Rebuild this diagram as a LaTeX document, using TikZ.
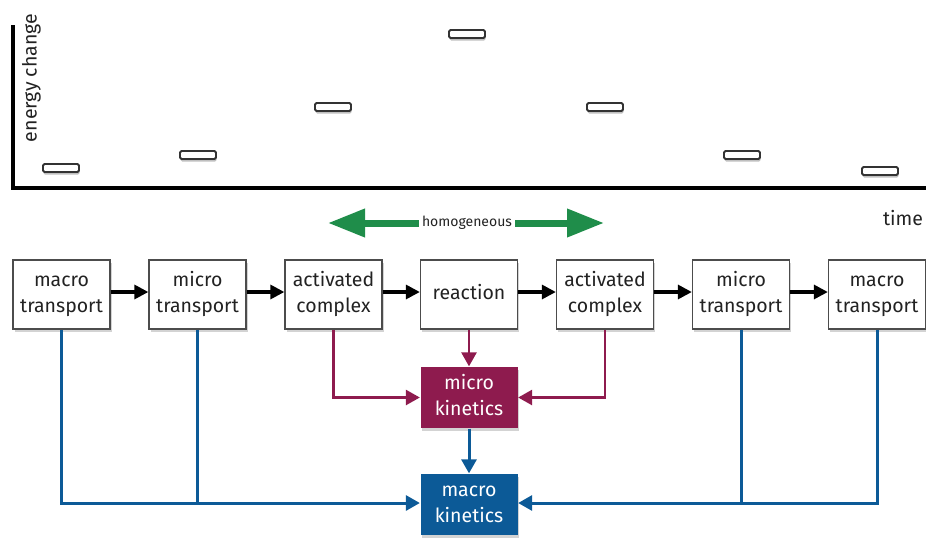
\documentclass[tikz,border=0pt]{standalone}
\usepackage{fontspec}
\setmainfont{Fira Sans}
\usetikzlibrary{arrows.meta,shadows,positioning}
\definecolor{mkpurple}{HTML}{8E1B4E}
\definecolor{mkblue}{HTML}{0C5A97}
\definecolor{hgreen}{HTML}{1F8D4A}
\definecolor{txt}{HTML}{222222}
\newcommand{\twolines}[2]{\strut#1\\\strut#2}
\tikzset{
  stepbox/.style={draw=black!70, line width=1.3pt, fill=white, minimum width=97pt, minimum height=69pt,
    align=center, font=\fontsize{19.5}{26}\selectfont, text=txt, inner sep=0pt,
    drop shadow={shadow xshift=1.5pt, shadow yshift=-2.5pt, opacity=0.35}},
  kinbox/.style={stepbox, draw=none, text=white},
  level/.style={draw=black!80, line width=1.8pt, fill=white, rounded corners=1.5pt,
    minimum width=36pt, minimum height=8pt, inner sep=0pt,
    drop shadow={shadow xshift=0.5pt, shadow yshift=-2.5pt, opacity=0.5}},
  flow/.style={line width=3.2pt, -{Triangle[length=14pt,width=14pt]}},
  purp/.style={draw=mkpurple, line width=2.6pt, -{Triangle[length=14pt,width=15pt]}, mkpurple},
  blu/.style={draw=mkblue, line width=3pt, mkblue},
  bluarr/.style={blu, -{Triangle[length=14pt,width=15pt]}},
  garrow/.style={draw=hgreen, line width=7pt, -{Triangle[length=37pt,width=27pt]}}
}
\begin{document}
\begin{tikzpicture}[x=1pt,y=-1pt]
\useasboundingbox (0,0) rectangle (926,538);
% axes
\coordinate (ytop) at (13,25);
\coordinate (orig) at (13,188);
\coordinate (xend) at (926,188);
\draw[line width=3.2pt] (ytop) -- (orig) -- (xend);
\node[rotate=90, font=\fontsize{19.5}{22}\selectfont, text=txt] (elab) at (31.5,78) {energy change};
\node[font=\fontsize{19.5}{22}\selectfont, text=txt] (tlab) at (903,218) {time};
% energy levels
\node[level] (l1) at (61,168) {};
\node[level] (l2) at (198,155) {};
\node[level] (l3) at (333,107) {};
\node[level] (l4) at (467,34) {};
\node[level] (l5) at (605,107) {};
\node[level] (l6) at (742,155) {};
\node[level] (l7) at (880,171) {};
% homogeneous
\node[font=\fontsize{14}{16}\selectfont, text=txt, inner sep=3pt] (hom) at (467,223) {homogeneous};
\coordinate (gl) at (328,223);
\coordinate (gr) at (604,223);
\draw[garrow] (hom.west) -- (gl);
\draw[garrow] (hom.east) -- (gr);
% boxes
\node[stepbox] (b1) at (61.5,294.5) {\twolines{macro}{transport}};
\node[stepbox] (b2) at (197.5,294.5) {\twolines{micro}{transport}};
\node[stepbox] (b3) at (333.5,294.5) {\twolines{activated}{complex}};
\node[stepbox] (b4) at (469,294.5) {\strut reaction};
\node[stepbox] (b5) at (605,294.5) {\twolines{activated}{complex}};
\node[stepbox] (b6) at (741,294.5) {\twolines{micro}{transport}};
\node[stepbox] (b7) at (877,294.5) {\twolines{macro}{transport}};
\foreach \a/\b in {b1/b2,b2/b3,b3/b4,b4/b5,b5/b6,b6/b7}
  \draw[flow] ([yshift=2.5pt]\a.east) -- ([yshift=2.5pt]\b.west);
% kinetics
\node[kinbox, fill=mkpurple, minimum height=61pt] (mk) at (469,397.5) {\twolines{micro}{kinetics}};
\node[kinbox, fill=mkblue, minimum height=61pt] (MK) at (469,504.5) {\twolines{macro}{kinetics}};
\coordinate (bl) at ([yshift=1.5pt]MK.west);
\coordinate (br) at ([yshift=1.5pt]MK.east);
\draw[purp] (b4.south) -- (mk.north);
\draw[purp] (b3.south) |- (mk.west);
\draw[purp] (b5.south) |- (mk.east);
\draw[bluarr] (mk.south) -- (MK.north);
\draw[bluarr] (b1.south) |- (bl);
\draw[bluarr] (b7.south) |- (br);
\draw[blu] (b2.south) -- (b2.south |- bl);
\draw[blu] (b6.south) -- (b6.south |- br);
\end{tikzpicture}
\end{document}
